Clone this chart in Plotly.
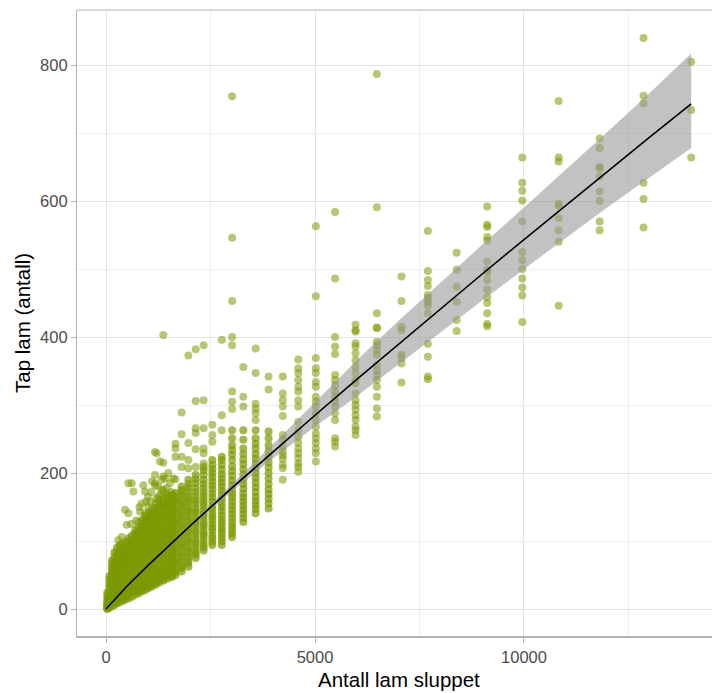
import plotly.graph_objects as go

# Dense part: release-count bins (x) with their tap counts (y)
core_x = [30, 80, 140, 200, 260, 330, 400, 470, 540, 620, 700, 780, 860,
          940, 1020, 1100, 1190, 1280, 1380, 1480, 1580,
          1661, 1809, 1970, 2145, 2336, 2544, 2770, 3017, 3285, 3580, 3890]
core_y = [
    [0, 1, 3, 5, 8, 11, 15, 19, 24],
    [2, 4, 7, 11, 15, 19, 24, 28, 33, 38, 43, 48],
    [4, 8, 12, 16, 21, 26, 31, 36, 41, 46, 51, 56, 61, 66, 71],
    [6, 10, 15, 20, 25, 29, 35, 39, 45, 50, 54, 60, 65, 70, 76, 83],
    [8, 12, 17, 22, 27, 31, 37, 42, 46, 52, 57, 61, 67, 72, 77, 83, 90],
    [10, 14, 19, 24, 29, 34, 38, 44, 49, 53, 59, 64, 68, 74, 79, 84, 89, 94],
    [12, 16, 21, 26, 31, 35, 41, 46, 50, 56, 61, 65, 71, 76, 80, 86, 91, 96],
    [14, 18, 23, 28, 32, 38, 43, 47, 53, 58, 62, 68, 73, 77, 83, 88, 92, 99],
    [16, 20, 25, 30, 35, 39, 45, 50, 54, 60, 65, 69, 75, 80, 84, 90, 95, 99, 104],
    [18, 23, 27, 31, 37, 42, 46, 52, 57, 61, 67, 72, 76, 82, 87, 91, 97, 102, 108],
    [21, 25, 29, 34, 38, 44, 49, 53, 59, 64, 68, 74, 79, 83, 89, 94, 98, 104, 111, 116],
    [23, 27, 31, 35, 41, 46, 50, 56, 61, 65, 71, 76, 80, 86, 91, 95, 101, 106, 110, 116, 121],
    [26, 29, 33, 39, 44, 48, 54, 59, 63, 69, 74, 78, 84, 89, 93, 99, 104, 108, 114, 121, 126, 131],
    [28, 32, 36, 40, 46, 51, 55, 61, 66, 70, 76, 81, 85, 91, 96, 100, 106, 111, 115, 121, 127, 132, 137],
    [31, 34, 38, 42, 48, 53, 57, 63, 68, 72, 78, 83, 87, 93, 98, 102, 108, 113, 117, 123, 128, 132, 137, 142],
    [33, 36, 40, 46, 51, 55, 61, 66, 70, 76, 81, 85, 91, 96, 100, 106, 111, 115, 121, 126, 130, 137, 142, 147],
    [36, 39, 43, 47, 53, 58, 62, 68, 73, 77, 83, 88, 92, 98, 103, 107, 113, 118, 122, 128, 133, 137, 144, 149, 155],
    [39, 42, 45, 51, 56, 60, 66, 71, 75, 81, 86, 90, 96, 101, 105, 111, 116, 120, 126, 131, 135, 141, 146, 150, 155, 160],
    [42, 45, 48, 54, 59, 63, 69, 74, 78, 84, 89, 93, 99, 104, 108, 114, 119, 123, 129, 134, 138, 144, 149, 153, 157, 162],
    [45, 48, 51, 57, 62, 66, 72, 77, 81, 87, 92, 96, 102, 107, 111, 117, 122, 126, 132, 137, 141, 147, 152, 156, 160, 165],
    [47, 50, 54, 58, 64, 69, 73, 79, 84, 88, 94, 99, 103, 109, 114, 118, 124, 129, 133, 139, 144, 150, 155, 159, 163, 168],
    [50, 54, 59, 65, 69, 74, 80, 84, 89, 95, 99, 104, 110, 114, 119, 125, 129, 134, 140, 144, 149, 155, 160, 164],
    [55, 60, 64, 69, 75, 79, 84, 90, 94, 99, 105, 109, 114, 120, 124, 129, 135, 139, 144, 150, 154, 159, 165, 170, 175, 180],
    [62, 67, 71, 76, 82, 86, 91, 97, 101, 106, 112, 116, 121, 127, 131, 136, 142, 146, 151, 157, 161, 166, 172, 178, 184, 190],
    [75, 80, 84, 89, 95, 99, 104, 110, 114, 119, 125, 129, 134, 140, 144, 149, 155, 160, 166, 172, 178, 185, 191, 197],
    [86, 91, 95, 100, 106, 110, 115, 121, 125, 130, 136, 140, 145, 151, 156, 161, 167, 172, 178, 184, 190, 197, 204, 209],
    [94, 99, 104, 109, 115, 120, 125, 131, 136, 141, 147, 152, 158, 164, 170, 176, 182, 188, 194, 200, 206, 212, 219],
    [94, 100, 105, 111, 116, 121, 127, 132, 138, 144, 150, 156, 162, 168, 174, 180, 186, 192, 198, 205, 212, 219, 224],
    [106, 111, 117, 122, 128, 134, 140, 146, 152, 158, 164, 170, 176, 182, 189, 196, 203, 210, 219, 227, 234, 241, 251, 263],
    [128, 134, 140, 146, 152, 158, 164, 170, 177, 184, 191, 198, 205, 213, 220, 228, 236, 249, 263],
    [141, 147, 153, 159, 165, 172, 179, 186, 193, 200, 207, 214, 221, 228, 236, 243, 251, 263],
    [148, 155, 162, 169, 176, 184, 192, 200, 208, 216, 224, 232, 241, 251, 261],
]

# Larger flocks: release-count bins (x) with their tap counts (y)
col_x = [4230, 4600, 5020, 5480, 5970, 6480, 7070, 7700, 8390, 9120, 9960,
         10830, 11810, 12860, 14000]
col_y = [
    [190, 207, 212, 221, 226, 232, 239, 249, 256, 284, 298, 307, 317, 342],
    [202, 209, 214, 222, 229, 236, 244, 253, 263, 275, 298, 307, 320, 327, 337, 347, 354, 367],
    [217, 229, 236, 244, 251, 258, 268, 278, 288, 298, 305, 312, 327, 334, 347, 354, 369, 460, 563],
    [239, 246, 251, 278, 288, 298, 305, 312, 320, 329, 337, 344, 375, 386, 400, 486, 584],
    [256, 263, 268, 278, 285, 293, 300, 307, 317, 332, 337, 347, 356, 366, 376, 386, 391, 408, 410, 418],
    [283, 295, 312, 327, 337, 344, 351, 359, 374, 381, 388, 393, 413, 414, 435, 591, 787],
    [333, 361, 369, 374, 410, 415, 453, 489],
    [338, 342, 371, 390, 435, 446, 452, 457, 462, 475, 484, 497, 556],
    [409, 425, 452, 474, 499, 524],
    [416, 419, 435, 450, 459, 470, 484, 495, 499, 511, 542, 547, 562, 565, 592],
    [422, 461, 473, 486, 500, 513, 525, 570, 601, 615, 627, 664],
    [446, 540, 557, 575, 593, 596, 658, 664, 747],
    [557, 570, 600, 614, 636, 648, 650, 678, 692],
    [561, 603, 627, 744, 755, 840],
    [664, 734, 805],
]

# Scattered flocks above the dense part
halo_x = [535, 654, 933, 1172, 1172, 1411, 1610, 455, 535, 495, 773, 694, 375,
          295, 933, 1013, 853, 1332, 1172, 1371, 1172, 1371, 1371, 1371, 615,
          893, 813, 1212, 1292, 1491, 1651, 1251, 1050, 720,
          1000, 1090, 1250, 1330, 1450, 1530, 1100, 960, 1400, 1560, 800, 600,
          1200, 1300, 1480,
          1661, 1661, 1661, 1661, 1661, 1809, 1809, 1809, 1809,
          1970, 1970, 1970, 1970, 2145, 2145, 2145, 2145, 2145, 2145,
          2336, 2336, 2336, 2336, 2336, 2336, 2544, 2544, 2544,
          2770, 2770, 2770, 3017, 3017, 3017, 3017, 3017, 3017, 3017, 3017,
          3285, 3285, 3285, 3580, 3580, 3580, 3580, 3580, 3580, 3890, 3890]
halo_y = [185, 173, 173, 185, 197, 192, 192, 146, 141, 124, 128, 111, 106,
          101, 141, 150, 155, 175, 231, 215, 182, 195, 175, 403, 185,
          182, 143, 229, 217, 200, 170, 165, 158, 130,
          165, 172, 180, 190, 178, 185, 188, 158, 170, 172, 150, 125,
          162, 168, 168,
          171, 191, 224, 236, 243, 209, 224, 257, 289,
          207, 219, 244, 373, 209, 235, 259, 266, 306, 382,
          214, 229, 236, 266, 307, 388, 246, 256, 271,
          263, 285, 396, 294, 305, 320, 388, 400, 453, 546, 754,
          298, 312, 356, 278, 288, 295, 302, 347, 383, 323, 342]

# Fitted curve with its 95 % confidence band
fit_x = [0, 500, 1000, 2000, 3000, 4000, 5000, 6000, 7000, 8000, 9000,
         10000, 11000, 12000, 13000, 14000]
fit_y = [0, 33.5, 63.8, 121.6, 177.3, 231.6, 285.0, 337.8, 389.9, 441.5,
         492.7, 543.4, 593.8, 643.9, 693.6, 743.1]
fit_lo = [0, 33.3, 63.0, 119.1, 172.3, 221.6, 268.0, 312.8, 359.9, 406.5,
          453.7, 500.4, 545.8, 590.9, 634.6, 678.1]
fit_hi = [0, 33.7, 64.6, 124.1, 182.8, 242.6, 304.0, 365.8, 423.9, 480.5,
          535.7, 590.4, 645.8, 701.9, 758.6, 817.1]


def flatten(xs, ys):
    fx, fy = [], []
    for xv, yl in zip(xs, ys):
        fx.extend([xv] * len(yl))
        fy.extend(yl)
    return fx, fy


core_px, core_py = flatten(core_x, core_y)
col_px, col_py = flatten(col_x, col_y)
sparse_px = col_px + halo_x
sparse_py = col_py + halo_y

POINT = "#7a9a01"
GRID = "#e4e4e4"
FONT = "Liberation Sans, Arial, sans-serif"

fig = go.Figure()
fig.add_trace(go.Scatter(
    x=sparse_px, y=sparse_py, mode="markers",
    marker=dict(color=POINT, size=8, opacity=0.55, line=dict(width=0)),
    hoverinfo="skip", showlegend=False,
))
fig.add_trace(go.Scatter(
    x=core_px, y=core_py, mode="markers",
    marker=dict(color=POINT, size=8, opacity=0.7, line=dict(width=0)),
    hoverinfo="skip", showlegend=False,
))
fig.add_trace(go.Scatter(
    x=fit_x + fit_x[::-1], y=fit_hi + fit_lo[::-1],
    fill="toself", fillcolor="rgba(153,153,153,0.6)",
    line=dict(width=0), mode="lines", hoverinfo="skip", showlegend=False,
))
fig.add_trace(go.Scatter(
    x=fit_x, y=fit_y, mode="lines",
    line=dict(color="black", width=1.6), hoverinfo="skip", showlegend=False,
))

fig.update_layout(
    width=712, height=693,
    margin=dict(l=77, r=0, t=10, b=57),
    paper_bgcolor="white", plot_bgcolor="white",
    font=dict(family=FONT),
    xaxis=dict(
        range=[-694, 14498], tickvals=[0, 5000, 10000],
        ticktext=["0", "5000", "10000"],
        showgrid=True, gridcolor=GRID, gridwidth=1.1,
        minor=dict(tickvals=[2500, 7500, 12500], showgrid=True,
                   gridcolor="#eeeeee", gridwidth=0.8),
        zeroline=False, showline=True, linecolor="#b3b3b3", linewidth=1.6,
        ticks="outside", ticklen=5, tickcolor="#b3b3b3", tickwidth=1.1,
        tickfont=dict(size=16.5, color="#4d4d4d", family=FONT),
    ),
    yaxis=dict(
        range=[-39.7, 881], tickvals=[0, 200, 400, 600, 800],
        showgrid=True, gridcolor=GRID, gridwidth=1.1,
        minor=dict(tickvals=[100, 300, 500, 700], showgrid=True,
                   gridcolor="#eeeeee", gridwidth=0.8),
        zeroline=False, showline=True, linecolor="#b3b3b3", linewidth=1.2,
        ticks="outside", ticklen=5, tickcolor="#b3b3b3", tickwidth=1.1,
        tickfont=dict(size=16.5, color="#4d4d4d", family=FONT),
    ),
    shapes=[dict(type="line", xref="paper", yref="paper", x0=0, x1=1,
                 y0=1, y1=1, line=dict(color="#b3b3b3", width=1.2))],
    annotations=[
        dict(text="Antall lam sluppet", xref="paper", yref="paper",
             x=0.507, y=0, xanchor="center", yanchor="middle", yshift=-43,
             showarrow=False, font=dict(size=20.5, color="black", family=FONT)),
        dict(text="Tap lam (antall)", xref="paper", yref="paper",
             x=0, y=0.5, xanchor="center", yanchor="middle", xshift=-55,
             textangle=-90, showarrow=False,
             font=dict(size=20.5, color="black", family=FONT)),
    ],
)

fig.write_html("out.html")
